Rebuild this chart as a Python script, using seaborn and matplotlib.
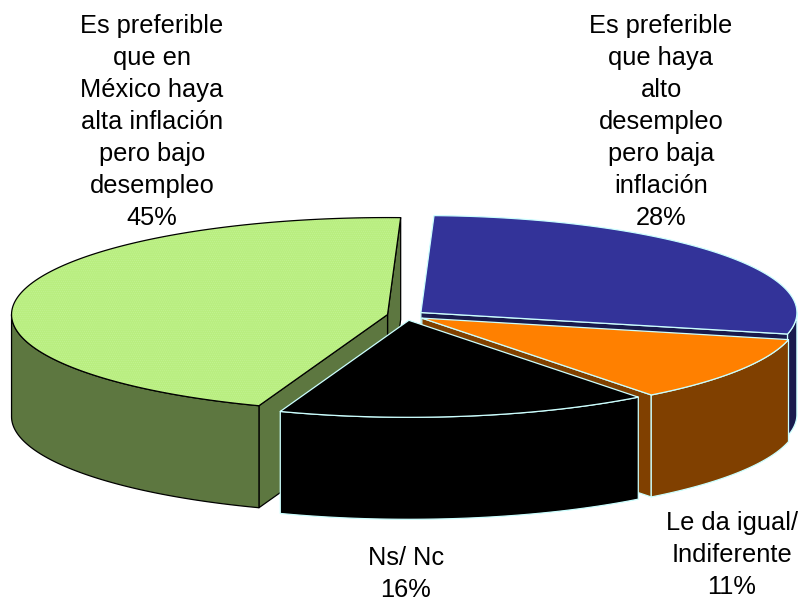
import numpy as np
import matplotlib
matplotlib.use("Agg")
import matplotlib.pyplot as plt
import seaborn as sns

labels = ["Es preferible\nque en\nMéxico haya\nalta inflación\npero bajo\ndesempleo\n45%",
          "Es preferible\nque haya\nalto\ndesempleo\npero baja\ninflación\n28%",
          "Le da igual/\nIndiferente\n11%",
          "Ns/ Nc\n16%"]
values = [45, 28, 11, 16]
top_colors = ["#b9ee80", "#333399", "#ff8000", "#000000"]
side_colors = ["#5d7740", "#191a4d", "#804000", "#000000"]
edge_colors = ["#000000", "#ccffff", "#ccffff", "#ccffff"]
hatches = ["........", None, None, None]
label_xy = [(152, 122), (661, 122), (732, 555), (406, 574)]

CX, CY, RX, RY, DEPTH, EXPLODE = 406.0, 315.5, 376.0, 97.0, 102.0, 0.05
START = 88.0

sns.set_theme(style="white")
plt.rcParams["font.family"] = ["Liberation Sans", "DejaVu Sans"]
plt.rcParams["hatch.linewidth"] = 0.3

fig = plt.figure(figsize=(8.01, 6.03), dpi=100)
ax = fig.add_axes([0, 0, 1, 1])
ax.set_xlim(0, 801)
ax.set_ylim(603, 0)
ax.axis("off")


def pt(cx, cy, a):
    r = np.radians(a)
    return cx + RX * np.cos(r), cy - RY * np.sin(r)


# slices run counter-clockwise for the first, then clockwise from the same start
spans = []
a = START
fr = np.array(values) / sum(values) * 360
spans.append((START, START + fr[0]))
for f in fr[1:]:
    spans.append((a - f, a))
    a -= f

for i, (a0, a1) in enumerate(spans):
    mid = np.radians((a0 + a1) / 2)
    ax_c = CX + EXPLODE * RX * np.cos(mid)
    ay_c = CY - EXPLODE * RY * np.sin(mid)
    kw = dict(facecolor=side_colors[i], edgecolor=edge_colors[i], linewidth=0.9, joinstyle="round")
    # radial walls that face the viewer
    for edge, normal in ((a0, a0 - 90), (a1, a1 + 90)):
        if np.sin(np.radians(normal)) < 0:
            x, y = pt(ax_c, ay_c, edge)
            ax.fill([ax_c, x, x, ax_c], [ay_c, y, y + DEPTH, ay_c + DEPTH], zorder=i * 3 + 1, **kw)
    # outer wall, visible only on the front half of the rim
    for lo, hi in ((max(a0, -180), min(a1, 0)), (max(a0, 180), min(a1, 360))):
        if hi > lo:
            t = np.linspace(lo, hi, 120)
            x, y = pt(ax_c, ay_c, t)
            ax.fill(np.r_[x, x[::-1]], np.r_[y, y[::-1] + DEPTH], zorder=i * 3 + 2, **kw)
    # top face
    t = np.linspace(a0, a1, 240)
    x, y = pt(ax_c, ay_c, t)
    px, py = np.r_[ax_c, x], np.r_[ay_c, y]
    ax.fill(px, py, facecolor=top_colors[i], edgecolor="none", zorder=i * 3 + 3)
    if hatches[i]:
        ax.fill(px, py, facecolor="none", edgecolor="#c6f59a", hatch=hatches[i], linewidth=0,
                zorder=i * 3 + 3)
    ax.fill(px, py, facecolor="none", edgecolor=edge_colors[i], linewidth=0.9,
            zorder=i * 3 + 3, joinstyle="round")

for lab, (x, y) in zip(labels, label_xy):
    ax.text(x, y, lab, ha="center", va="center", fontsize=18.3, color="black",
            linespacing=1.42, zorder=30)

fig.savefig("out.png", dpi=100)
